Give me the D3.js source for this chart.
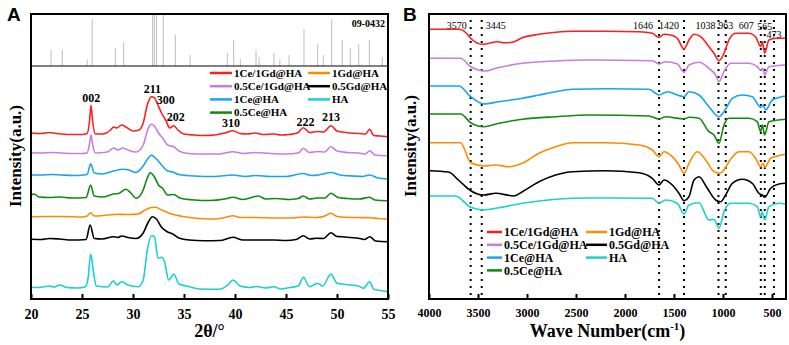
<!DOCTYPE html>
<html>
<head>
<meta charset="utf-8">
<script src="https://cdn.jsdelivr.net/npm/d3@7"></script>
<style>
body { margin: 0; background: #fff; }
text { font-family: "Liberation Serif", "Times New Roman", serif; font-weight: bold; }
</style>
</head>
<body>
<div id="chart"></div>
<script>
// ---- data ----
var seriesNames = ["1Ce/1Gd@HA", "0.5Ce/1Gd@HA", "1Ce@HA", "0.5Ce@HA", "1Gd@HA", "0.5Gd@HA", "HA"];

// XRD, [2theta, intensity a.u.] (curves already stacked)
var xrd1Ce1Gd = [[20,166],[21,165.5],[21.8,166.5],[22.5,165.5],[23,165],[24,164.5],[25,164.5],[25.5,165.5],[25.75,179],[25.88,193.7],[26.05,177],[26.3,165],[27,165],[27.8,169],[28.1,172],[28.4,171],[28.9,174],[29.3,172],[30,168],[30.6,169],[31,176],[31.4,194],[31.8,202.3],[32.1,201.3],[32.4,195],[32.8,186],[33.2,179],[33.6,171],[34,173.3],[34.4,169],[35,165],[36,164],[37,163.5],[38,164],[39,166],[39.8,168.3],[40.5,165.5],[41.2,165],[42,166],[42.7,164.5],[43.8,165],[44.5,164],[45.3,164.5],[46.1,166],[46.7,171.3],[47.3,166.5],[48.1,167.5],[48.7,167],[49.4,173.3],[50,168],[50.5,167],[51.3,166],[52.2,165.5],[52.8,165],[53.2,169.7],[53.6,163.5],[54.2,163],[55,162.3]];
var xrd05Ce1Gd = [[20,146.3],[21,146],[22,146.5],[23,146],[24,145.5],[25,145.5],[25.5,146],[25.75,156],[25.88,164],[26.05,154],[26.3,146],[27.5,147],[28.1,151],[28.5,149],[29,151],[29.5,149],[30.3,147],[31,154],[31.5,171],[31.8,174.7],[32.1,173],[32.5,166],[32.9,161],[33.4,154],[34,152.3],[34.5,148],[35.5,145.5],[37,145],[38.5,145],[39.8,147.3],[40.8,145.5],[42,146.5],[43.5,145.5],[45,145],[46.2,146],[46.7,150.7],[47.3,146.5],[48.1,147.5],[48.8,147],[49.4,152.3],[50,148],[51,146.5],[52.1,146],[52.8,145],[53.2,148.3],[53.7,144],[55,143.3]];
var xrd1Ce = [[20,124],[21,124],[22,124.5],[23,124],[24.5,123.5],[25.5,124.5],[25.85,135.3],[26.2,126],[27,125],[28.1,128],[29,129.7],[29.6,129],[30.3,126.5],[31,133],[31.5,141],[31.8,143.7],[32.2,141],[32.8,134],[33.4,128],[33.9,127],[34.5,124.5],[36,123],[38,122.5],[39.8,124],[41,122.5],[42,123.5],[43.5,122.5],[45,122.5],[46.7,125.5],[47.5,123.5],[48.2,124],[49.4,126.5],[50.3,124],[51.5,123],[52.5,122.5],[53.2,124],[54,121],[55,120]];
var xrd05Ce = [[20,104],[20.3,105],[20.8,102],[21.8,101.5],[22.8,102],[24,101],[25.4,101.5],[25.85,114],[26.2,103],[27,102],[28.1,105],[28.6,105.5],[29.3,109.7],[29.8,106],[30.3,100.7],[31,109],[31.4,121],[31.7,126.3],[32.1,122],[32.5,114],[32.9,110.7],[33.4,104],[34,104.5],[34.6,101],[36,99],[37.5,98.5],[39,100],[39.8,101.7],[40.8,99.5],[42.3,103],[43,100],[44,100.5],[45.3,99.5],[46.2,100.5],[46.7,103],[47.3,100],[48.1,101],[48.8,101],[49.4,105.7],[50.1,101.5],[51,100.5],[52.2,100],[53.2,101.7],[53.7,99],[55,98.3]];
var xrd1Gd = [[20,82.3],[21.5,82.5],[23,82.5],[25,82],[25.5,83],[25.85,86.3],[26.2,83],[27.5,84],[28.5,84.7],[29.5,84.5],[30.5,85],[31.2,89],[31.8,91.5],[32.2,91.7],[32.8,89],[33.5,86],[34.2,84],[35,82.3],[36.5,80.5],[38,80],[39,81.5],[39.8,83.3],[40.5,81.5],[42,81.5],[44,81],[45.5,81],[46.7,82],[48,81.5],[48.8,83],[49.4,85.7],[50,82.5],[51.5,81.5],[53.2,81.3],[54,80.5],[55,79.7]];
var xrd05Gd = [[20,59.7],[21,59.5],[21.8,60.5],[22.8,60],[24,59],[25.4,59.5],[25.8,74],[26.2,60.5],[27,60],[28.1,62.3],[28.5,61.5],[28.9,63],[29.5,61.5],[30.3,60.5],[31,66],[31.5,77],[31.9,82.3],[32.3,80],[32.8,71.7],[33.4,67],[33.9,65],[34.5,61],[35.5,59],[37,58.3],[38.5,58.5],[39.8,61.7],[40.8,59],[42,59],[43.8,59],[45,58.5],[46,59.5],[46.7,63.3],[47.3,60],[48,60.7],[48.7,60.5],[49.4,66.3],[50,62.5],[50.5,62.3],[51.3,61.5],[52.1,60.7],[52.7,59.5],[53.2,62.3],[53.8,58],[55,57.3]];
var xrdHA = [[20,11.7],[20.8,11.5],[21.8,13],[22.3,12],[22.8,14],[23.5,11.5],[24.5,11],[25.3,12],[25.6,21],[25.85,45],[26.1,29],[26.4,13],[27.5,12],[28.1,18.3],[28.4,14],[28.9,17.3],[29.5,14],[30.5,12.3],[31,19],[31.4,49],[31.8,63.3],[32.1,62.5],[32.45,41],[32.8,41.7],[33.1,37],[33.5,19],[34,25],[34.5,15],[35.5,12.3],[36.5,10],[38.5,9.7],[39.3,14],[39.8,19],[40.5,13],[41.5,11.5],[42.1,12.5],[43,11],[43.8,12.3],[44.5,10],[45.4,11.5],[46.2,13],[46.7,21.7],[47.3,12.3],[48.1,15.7],[48.6,13],[49.4,25],[50,15.7],[50.5,15],[51.3,14],[52.1,13],[52.6,10.7],[53.2,17.3],[53.6,9.7],[54.3,8.5],[55,7.3]];

// JCPDS 09-0432 reference lines
var stickPos = [21.96, 23.07, 25.5, 26.0, 28.27, 29.09, 31.93, 32.09, 32.3, 32.97, 34.15, 35.6, 39.25, 39.87, 40.52, 42.06, 42.35, 43.82, 44.4, 45.3, 46.76, 48.1, 48.66, 49.48, 50.52, 51.3, 52.13, 53.17, 54.44];
var stickInt = [31, 31, 13, 90, 35, 46, 100, 100, 100, 100, 60, 21, 25, 50, 13, 29, 17, 25, 13, 21, 71, 42, 21, 90, 50, 35, 42, 50, 17];

var hklLabels = ["002", "211", "300", "202", "310", "222", "213"];
var hklPos = [25.9, 31.9, 33.2, 34.2, 39.6, 46.9, 49.4];
var hklLevel = [197, 206, 195, 178.3, 172, 173, 178.3];

// FTIR, [wavenumber, intensity a.u.] (curves already stacked)
var ir1Ce1Gd = [[4000,269.7],[3694,269.7],[3620,266],[3575,260.7],[3456,254.7],[3388,255.7],[3303,257.3],[3235,256.3],[3150,256.7],[3048,261.3],[2878,264.7],[2707,266.7],[2537,267.7],[2197,267.7],[1857,267.3],[1721,265.7],[1653,261.7],[1602,264.7],[1534,264],[1466,260.7],[1398,250],[1347,259],[1296,264.7],[1228,262.3],[1143,252.3],[1092,245.7],[1041,238.3],[990,245.7],[939,259],[871,265.7],[735,265.7],[667,262.3],[616,252.3],[599,257.3],[575,245.7],[531,259],[463,260.7],[357,260.7]];
var ir05Ce1Gd = [[4000,240.7],[3677,240.7],[3575,232.3],[3422,228],[3320,230.7],[3048,235.7],[2707,238],[2367,239],[1721,238.3],[1653,235],[1585,237.3],[1466,235],[1398,226.7],[1347,234],[1245,236.7],[1143,230.7],[1075,224],[1041,217.3],[990,227.3],[922,235.7],[735,235.7],[650,232.3],[616,229],[592,230.7],[575,224],[531,232.3],[357,234]];
var ir1Ce = [[4000,213],[3694,213],[3575,202.3],[3439,195],[3286,197.3],[3048,200.7],[2878,204],[2707,207.3],[2537,209.7],[2197,210.3],[1755,209.7],[1653,204],[1568,207.3],[1466,204],[1398,202.3],[1347,207.3],[1245,204],[1143,192.3],[1041,182.3],[990,187.3],[905,200.7],[803,204],[701,202.3],[616,191.7],[592,194],[565,189],[497,199],[357,203]];
var ir05Ce = [[4000,185],[3677,185],[3575,176.3],[3439,172.3],[3286,175.7],[3048,179.7],[2707,182.3],[2367,184],[1755,183],[1653,180],[1585,182.3],[1398,180],[1347,181.7],[1245,180.7],[1143,167.3],[1092,164],[1041,155.7],[990,174],[939,180.7],[735,180.7],[650,177.3],[616,167.3],[599,174],[575,164],[531,177.3],[357,179.7]];
var ir1Gd = [[4000,156.3],[3677,156.3],[3575,136.3],[3439,133],[3320,134],[3184,132.3],[3048,135.7],[2878,145.7],[2707,152.3],[2537,156.3],[2197,156.3],[1857,154],[1721,149],[1653,142.3],[1602,147.3],[1517,142.3],[1449,134],[1398,125.7],[1347,135.7],[1262,147.3],[1177,139],[1092,127.3],[1041,125.7],[990,129],[939,137.3],[837,147.3],[735,147.3],[667,140.7],[616,132.3],[592,135.7],[572,131.7],[514,140.7],[357,144.7]];
var ir05Gd = [[4000,128.3],[3800,127],[3700,119],[3575,108.3],[3439,104],[3320,105.7],[3133,103],[3048,107.3],[2878,117.3],[2707,124],[2537,127.3],[2197,128.3],[1857,126.3],[1721,120.7],[1653,114],[1602,119],[1517,114],[1449,105.7],[1398,98.3],[1347,102.3],[1296,119],[1245,122.3],[1160,110.7],[1075,99],[1024,97.3],[973,104],[905,115.7],[803,119.7],[701,115.7],[633,105.7],[599,104],[575,101.7],[514,110.7],[429,115],[357,115.7]];
var irHA = [[4000,103],[3728,103],[3575,91.7],[3439,89],[3286,91.3],[3048,95.7],[2707,99.7],[2367,101],[1721,100.7],[1653,95.7],[1585,99],[1466,95.7],[1398,85],[1347,94],[1245,96.3],[1143,79],[1092,79.7],[1041,70.7],[990,87.3],[922,95.7],[735,95.7],[650,92.3],[616,82.3],[599,87.3],[575,79],[531,92.3],[429,95.7],[357,95]];

var bandPos = [3575, 3462, 1652, 1398, 1046, 972, 614, 574, 480];
var bandLabels = ["3570", "3445", "1646", "1420", "1038", "963", "607", "565", "473"];

var xrdSeries = [xrd1Ce1Gd, xrd05Ce1Gd, xrd1Ce, xrd05Ce, xrd1Gd, xrd05Gd, xrdHA];
var irSeries = [ir1Ce1Gd, ir05Ce1Gd, ir1Ce, ir05Ce, ir1Gd, ir05Gd, irHA];

// ---- drawing ----
var colors = ["#ff1e1e", "#c77ee0", "#19a3f0", "#118a11", "#ff8c00", "#000000", "#1dd0d0"];

var width = 789, height = 345;
var svg = d3.select("#chart").append("svg")
    .attr("width", width)
    .attr("height", height);

var plotTop = 14, plotBottom = 299;

// panel A
var xA = d3.scaleLinear().domain([20, 55]).range([31, 388]);
var yA = d3.scaleLinear().domain([0, 285]).range([plotBottom, plotTop]);
var yS = d3.scaleLinear().domain([0, 100]).range([66, plotTop]);

var gA = svg.append("g");

gA.selectAll("line.stick")
    .data(stickPos)
    .enter()
    .append("line")
    .attr("class", "stick")
    .attr("x1", function(d) { return xA(d); })
    .attr("x2", function(d) { return xA(d); })
    .attr("y1", yS(0))
    .attr("y2", function(d, i) { return yS(stickInt[i]); })
    .attr("stroke", "#bdbdbd")
    .attr("stroke-width", 1);

gA.append("line")
    .attr("x1", xA(20)).attr("x2", xA(55))
    .attr("y1", yS(0)).attr("y2", yS(0))
    .attr("stroke", "#000").attr("stroke-width", 1);

gA.append("text")
    .attr("x", xA(55) - 3)
    .attr("y", 27)
    .attr("text-anchor", "end")
    .style("font-size", "10px")
    .text("09-0432");

var lineA = d3.line()
    .x(function(d) { return xA(d[0]); })
    .y(function(d) { return yA(d[1]); })
    .curve(d3.curveMonotoneX);

gA.selectAll("path.xrd")
    .data(xrdSeries)
    .enter()
    .append("path")
    .attr("class", "xrd")
    .attr("d", lineA)
    .attr("fill", "none")
    .attr("stroke", function(d, i) { return colors[i]; })
    .attr("stroke-width", 1.6);

gA.selectAll("text.hkl")
    .data(hklLabels)
    .enter()
    .append("text")
    .attr("class", "hkl")
    .attr("x", function(d, i) { return xA(hklPos[i]); })
    .attr("y", function(d, i) { return yA(hklLevel[i]); })
    .attr("text-anchor", "middle")
    .style("font-size", "12px")
    .text(function(d) { return d; });

var xAxisA = d3.axisBottom(xA)
    .tickValues([20, 25, 30, 35, 40, 45, 50, 55])
    .tickSizeInner(-5)
    .tickSizeOuter(0)
    .tickPadding(10);

var axA = gA.append("g")
    .attr("transform", "translate(0," + plotBottom + ")")
    .call(xAxisA);
axA.select(".domain").remove();
axA.selectAll("line").attr("stroke-width", 2);
axA.selectAll("text")
    .style("font-size", "14px")
    .style("font-family", "Liberation Serif, serif")
    .style("font-weight", "bold")
    .attr("fill", "#000");

gA.append("rect")
    .attr("x", 31).attr("y", plotTop)
    .attr("width", 388 - 31).attr("height", plotBottom - plotTop)
    .attr("fill", "none").attr("stroke", "#000").attr("stroke-width", 2);

gA.append("text")
    .attr("x", (31 + 388) / 2)
    .attr("y", 337)
    .attr("text-anchor", "middle")
    .style("font-size", "18px")
    .text("2θ/°");

gA.append("text")
    .attr("transform", "translate(15,156) rotate(-90)")
    .attr("dy", "0.35em")
    .attr("text-anchor", "middle")
    .style("font-size", "17px")
    .text("Intensity(a.u.)");

gA.append("text")
    .attr("x", 7).attr("y", 21)
    .style("font-family", "Liberation Sans, Arial, sans-serif")
    .style("font-size", "19px")
    .text("A");

// legend A
var legA = gA.append("g");
seriesNames.forEach(function(name, i) {
    var col = i < 4 ? 0 : 1;
    var row = i < 4 ? i : i - 4;
    var lx = col === 0 ? 210 : 308;
    var ly = 73 + row * 13.2;
    legA.append("line")
        .attr("x1", lx).attr("x2", lx + 22)
        .attr("y1", ly).attr("y2", ly)
        .attr("stroke", colors[i]).attr("stroke-width", 2.5);
    legA.append("text")
        .attr("x", lx + 24).attr("y", ly)
        .attr("dy", "0.35em")
        .style("font-size", "11px")
        .text(name);
});

// panel B
var xB = d3.scaleLinear().domain([4000, 357]).range([429, 786]);
var yB = d3.scaleLinear().domain([0, 285]).range([plotBottom, plotTop]);

var gB = svg.append("g");

gB.selectAll("line.band")
    .data(bandPos)
    .enter()
    .append("line")
    .attr("class", "band")
    .attr("x1", function(d) { return xB(d); })
    .attr("x2", function(d) { return xB(d); })
    .attr("y1", 20)
    .attr("y2", plotBottom)
    .attr("stroke", "#000")
    .attr("stroke-width", 2)
    .attr("stroke-dasharray", "2,5");

var bandAnchor = ["end", "start", "end", "end", "end", "middle", "end", "middle", "middle"];
var bandShift = [-4, 4, -6, -5, -3, 0, -7, 0, 0];
var bandDrop = [0, 0, 0, 0, 0, 0, 0, 1, 9];

gB.selectAll("text.band")
    .data(bandLabels)
    .enter()
    .append("text")
    .attr("class", "band")
    .attr("x", function(d, i) { return xB(bandPos[i]) + bandShift[i]; })
    .attr("y", function(d, i) { return 29 + bandDrop[i]; })
    .attr("text-anchor", function(d, i) { return bandAnchor[i]; })
    .style("font-size", "10px")
    .style("font-weight", "normal")
    .text(function(d) { return d; });

var lineB = d3.line()
    .x(function(d) { return xB(d[0]); })
    .y(function(d) { return yB(d[1]); })
    .curve(d3.curveMonotoneX);

gB.selectAll("path.ir")
    .data(irSeries)
    .enter()
    .append("path")
    .attr("class", "ir")
    .attr("d", function(d) { return lineB(d.slice().reverse()); })
    .attr("fill", "none")
    .attr("stroke", function(d, i) { return colors[i]; })
    .attr("stroke-width", 1.6);

var xAxisB = d3.axisBottom(xB)
    .tickValues([4000, 3500, 3000, 2500, 2000, 1500, 1000, 500])
    .tickFormat(d3.format("d"))
    .tickSizeInner(-5)
    .tickSizeOuter(0)
    .tickPadding(9);

var axB = gB.append("g")
    .attr("transform", "translate(0," + plotBottom + ")")
    .call(xAxisB);
axB.select(".domain").remove();
axB.selectAll("line").attr("stroke-width", 2);
axB.selectAll("text")
    .style("font-size", "12px")
    .style("font-family", "Liberation Serif, serif")
    .style("font-weight", "bold")
    .attr("fill", "#000");

gB.append("rect")
    .attr("x", 429).attr("y", plotTop)
    .attr("width", 786 - 429).attr("height", plotBottom - plotTop)
    .attr("fill", "none").attr("stroke", "#000").attr("stroke-width", 2);

var xt = gB.append("text")
    .attr("x", (429 + 786) / 2)
    .attr("y", 337)
    .attr("text-anchor", "middle")
    .style("font-size", "18px");
xt.append("tspan").text("Wave Number(cm");
xt.append("tspan").attr("dy", -7).style("font-size", "11px").text("-1");
xt.append("tspan").attr("dy", 7).text(")");

gB.append("text")
    .attr("transform", "translate(410,146) rotate(-90)")
    .attr("dy", "0.35em")
    .attr("text-anchor", "middle")
    .style("font-size", "17px")
    .text("Intensity(a.u.)");

gB.append("text")
    .attr("x", 403).attr("y", 21)
    .style("font-family", "Liberation Sans, Arial, sans-serif")
    .style("font-size", "19px")
    .text("B");

// legend B
var legB = gB.append("g");
seriesNames.forEach(function(name, i) {
    var col = i < 4 ? 0 : 1;
    var row = i < 4 ? i : i - 4;
    var lx = col === 0 ? 487 : 586;
    var len = col === 0 ? 15 : 21;
    var ly = 232 + row * 12.8;
    legB.append("line")
        .attr("x1", lx).attr("x2", lx + len)
        .attr("y1", ly).attr("y2", ly)
        .attr("stroke", colors[i]).attr("stroke-width", 2.5);
    legB.append("text")
        .attr("x", lx + len + 2).attr("y", ly)
        .attr("dy", "0.35em")
        .style("font-size", "12px")
        .text(name);
});
</script>
</body>
</html>
